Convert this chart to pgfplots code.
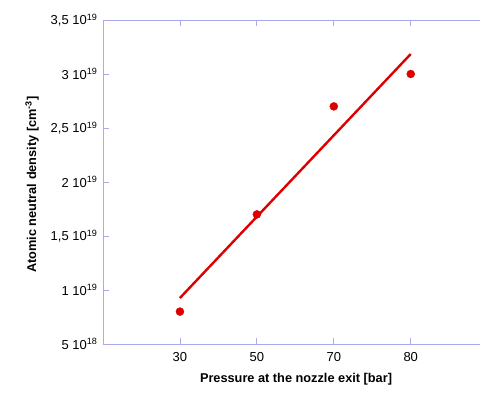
\documentclass[border=0pt]{standalone}
\usepackage{pgfplots}
\pgfplotsset{compat=1.18}
\usepackage{fontspec}
\setmainfont{Liberation Sans}
\definecolor{axc}{HTML}{AAAAEE}
\definecolor{pred}{HTML}{DD0000}
\begin{document}
\begin{tikzpicture}[x=1pt,y=1pt]
\useasboundingbox (-103,-59) rectangle (377,344);
\begin{axis}[
  at={(0,0)}, anchor=south west,
  scale only axis, width=377pt, height=324pt,
  xmin=0, xmax=4.9, ymin=0.5, ymax=3.5,
  axis x line=box, axis y line=left,
  axis line style={axc, -, line width=0.8pt},
  every tick/.style={axc, line width=0.8pt},
  tick align=inside, major tick length=6pt,
  xtick={1,2,3,4}, xticklabels={30,50,70,80},
  ytick={0.5,1,1.5,2,2.5,3,3.5},
  yticklabels={5 10\textsuperscript{18},1 10\textsuperscript{19},{1,5 10\textsuperscript{19}},2 10\textsuperscript{19},{2,5 10\textsuperscript{19}},3 10\textsuperscript{19},{3,5 10\textsuperscript{19}}},
  xticklabel style={font=\fontsize{13}{15}\selectfont, text=black, yshift=-5pt},
  yticklabel style={font=\fontsize{13}{15}\selectfont, text=black, xshift=-2pt},
  xlabel={\textbf{Pressure at the nozzle exit [bar]}},
  ylabel={\textbf{Atomic neutral density [cm\textsuperscript{-3}]}},
  every axis x label/.style={at={(axis description cs:0.512,-0.108)}, anchor=center, font=\fontsize{12.75}{15}\selectfont},
  every axis y label/.style={at={(axis description cs:-0.188,0.492)}, anchor=center, rotate=90, font=\fontsize{12.75}{15}\selectfont},
  clip=false,
]
\addplot[only marks, mark=*, mark size=4pt, color=pred] coordinates {(1,0.8) (2,1.7) (3,2.7) (4,3.0)};
\addplot[pred, line width=2.4pt, no marks] coordinates {(1,0.926) (4,3.185)};
\end{axis}
\end{tikzpicture}
\end{document}
